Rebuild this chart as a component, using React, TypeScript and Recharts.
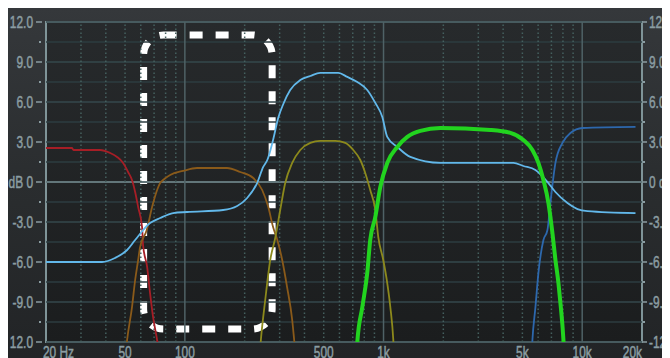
import React from 'react';
import { LineChart, Line, XAxis, YAxis, ReferenceLine, ReferenceArea, CartesianGrid } from 'recharts';

if (typeof document !== 'undefined') {
  document.documentElement.style.overflow = 'hidden';
  document.body.style.overflow = 'hidden';
}

// ---- axis data ----
const freqTicks = [20, 50, 100, 500, 1000, 5000, 10000, 20000];
const freqTickLabels = ['20 Hz', '50', '100', '500', '1k', '5k', '10k', '20k'];
const freqMinorGrid = [30, 40, 50, 60, 70, 80, 90, 200, 300, 400, 500, 600, 700, 800, 900, 2000, 3000, 4000, 5000, 6000, 7000, 8000, 9000];
const freqMajorGrid = [100, 1000, 10000];
const dbTicks = [12, 10.5, 9, 7.5, 6, 4.5, 3, 1.5, 0, -1.5, -3, -4.5, -6, -7.5, -9, -10.5, -12];
const dbMajor = [12, 9, 6, 3, 0, -3, -6, -9, -12];
const dbLeftLabels = ['12.0', '9.0', '6.0', '3.0', 'dB 0', '-3.0', '-6.0', '-9.0', '12.0'];
const dbRightLabels = ['12.0', '9.0', '6.0', '3.0', '0 dB', '-3.0', '-6.0', '-9.0', '-12.0'];
const dbMinorGrid = [10.5, 7.5, 4.5, 1.5, -1.5, -4.5, -7.5, -10.5];

// ---- series ----
const redFreq = [20, 27, 27.5, 37.4, 42, 45.6, 48.9, 51.8, 54.2, 56.2, 58.2, 60.9, 61.6, 64.6, 66.8, 69.2, 72.5, 75];
const redDb = [2.55, 2.55, 2.4, 2.4, 2.18, 1.88, 1.43, 0.75, 0.15, -0.75, -1.88, -3.38, -4.73, -6.38, -8.33, -10.13, -11.85, -13.35];

const brownFreq = [50, 51.2, 54.2, 56.2, 58.2, 59.5, 64.3, 68.4, 72.5, 75.1, 77.7, 84.3, 98, 115, 163, 190, 221, 245, 263, 278, 292, 309, 327, 347, 355, 363];
const brownDb = [-13.35, -11.85, -9.38, -7.35, -5.85, -4.88, -3.6, -1.88, -0.6, -0.08, 0.15, 0.53, 0.83, 1.05, 1.05, 0.75, 0.3, -0.6, -1.88, -3.38, -4.35, -5.85, -7.88, -10.35, -11.85, -13.35];

const skyFreq = [20, 38.3, 44.5, 51.2, 56.2, 66.8, 75.1, 87.3, 102.6, 155.8, 183.4, 205.9, 231, 248, 260, 278, 295, 313, 339, 381, 428, 480, 592, 657, 738, 828, 909, 986, 1044, 1173, 1364, 1932, 4506, 5058, 5816, 6684, 7334, 8430, 9466, 10628, 18550];
const skyDb = [-6, -6, -5.7, -5.1, -4.35, -3.08, -2.7, -2.33, -2.25, -2.1, -1.8, -1.2, -0.08, 1.13, 1.65, 3.15, 4.8, 5.85, 6.9, 7.65, 7.95, 8.18, 8.18, 7.88, 7.5, 6.9, 5.93, 4.88, 3.38, 2.63, 1.88, 1.43, 1.43, 1.2, 0.9, 0, -0.75, -1.58, -2.03, -2.18, -2.33];

const oliveFreq = [236.6, 242, 253.8, 269, 285, 302, 320, 347, 381, 428, 480, 571, 642, 704, 764, 809, 857, 909, 941, 997, 1044, 1082, 1120, 1133];
const oliveDb = [-13.35, -11.63, -8.85, -5.85, -4.2, -2.1, -0.08, 1.43, 2.4, 2.93, 3.08, 3.08, 2.93, 2.4, 1.65, 0.68, -0.6, -2.1, -4.13, -5.85, -7.58, -9.38, -11.85, -13.35];

const greenFreq = [729, 738, 782, 828, 857, 909, 963, 1044, 1173, 1318, 1532, 1932, 3450, 4352, 5058, 5616, 6020, 6380, 6762, 7082, 7334, 7592, 7770, 8046, 8140];
const greenDb = [-13.35, -12, -9.38, -6.83, -4.35, -2.63, -0.38, 1.43, 2.63, 3.38, 3.83, 4.05, 3.9, 3.68, 3.15, 2.4, 1.43, 0.15, -1.58, -3.83, -5.85, -7.58, -9.08, -11.85, -13.35];

const navyFreq = [5550, 5616, 5816, 6020, 6380, 6684, 6918, 7334, 7954, 8728, 10030, 18550];
const navyDb = [-13.35, -11.85, -9.38, -6.83, -4.35, -3.6, -1.58, 1.43, 2.93, 3.68, 4.05, 4.13];

// annotation box (freq range, dB range)
const boxFreq = [62, 275];
const boxDb = [-11.03, 11.03];

const zip = (fs: number[], ds: number[]) => fs.map((f, i) => ({ f, db: ds[i] }));
const redData = zip(redFreq, redDb);
const brownData = zip(brownFreq, brownDb);
const skyData = zip(skyFreq, skyDb);
const oliveData = zip(oliveFreq, oliveDb);
const greenData = zip(greenFreq, greenDb);
const navyData = zip(navyFreq, navyDb);

const FONT = "'Liberation Sans', Arial, sans-serif";
const TXT = '#8b9da2';
const SX = 0.7;

const Label = ({ x, y, anchor, children }: any) => (
  <text
    transform={`translate(${x},${y}) scale(${SX},1)`}
    x={0}
    y={0}
    textAnchor={anchor}
    fontFamily={FONT}
    fontSize={17}
    fill={TXT}
    stroke={TXT}
    strokeWidth={0.5}
  >
    {children}
  </text>
);

const TopTick = (props: any) => {
  const { x, y, payload } = props;
  const i = freqTicks.indexOf(payload.value);
  const anchor = i === 0 ? 'start' : i === freqTicks.length - 1 ? 'end' : 'middle';
  const dx = i === 0 ? -3 : 0;
  return <Label x={x + dx} y={y - 2} anchor={anchor}>{freqTickLabels[i]}</Label>;
};

const BottomTick = (props: any) => {
  const { x, y, payload } = props;
  const i = freqTicks.indexOf(payload.value);
  const anchor = i === 0 ? 'start' : i === freqTicks.length - 1 ? 'end' : 'middle';
  const dx = i === 0 ? -3 : 0;
  return <Label x={x + dx} y={y + 16} anchor={anchor}>{freqTickLabels[i]}</Label>;
};

const LeftTick = (props: any) => {
  const { x, y, payload } = props;
  const i = dbMajor.indexOf(payload.value);
  if (i < 0) {
    return <rect x={x - 7} y={y - 1} width={2} height={2} fill={TXT} />;
  }
  return (
    <g>
      <Label x={x - 13} y={y + 6} anchor="end">{dbLeftLabels[i]}</Label>
      <line x1={x - 10} x2={x - 4} y1={y} y2={y} stroke={TXT} strokeWidth={1.5} />
    </g>
  );
};

const RightTick = (props: any) => {
  const { x, y, payload } = props;
  const i = dbMajor.indexOf(payload.value);
  if (i < 0) {
    return <rect x={x + 1} y={y - 1} width={2} height={2} fill={TXT} />;
  }
  return (
    <g>
      <line x1={x + 1} x2={x + 5} y1={y} y2={y} stroke={TXT} strokeWidth={1.5} />
      <Label x={x + 7} y={y + 6} anchor="start">{dbRightLabels[i]}</Label>
    </g>
  );
};

const DashedBox = (props: any) => {
  const { x, y, width, height } = props;
  return (
    <rect x={x} y={y} width={width} height={height} rx={20} ry={20} fill="none" stroke="#ffffff" strokeWidth={7} strokeDasharray="13 13" />
  );
};

export default function App() {
  return (
    <div style={{ width: 662, height: 350, background: 'linear-gradient(180deg, #35383b 0%, #2a2d2f 50%, #222426 100%)' }}>
      <LineChart width={662} height={350} margin={{ top: 0, right: 0, bottom: 0, left: 0 }}>
        <defs>
          <linearGradient id="plotBg" x1="0" y1="0" x2="0" y2="1">
            <stop offset="0%" stopColor="#272a2c" />
            <stop offset="100%" stopColor="#1b1d1e" />
          </linearGradient>
        </defs>
        <XAxis xAxisId="t" orientation="top" type="number" scale="log" domain={[20, 20000]} allowDataOverflow ticks={freqTicks} tick={<TopTick />} tickLine={false} axisLine={false} height={14} tickSize={0} tickMargin={0} interval={0} />
        <XAxis xAxisId="b" orientation="bottom" dataKey="f" type="number" scale="log" domain={[20, 20000]} allowDataOverflow ticks={freqTicks} tick={<BottomTick />} tickLine={false} axisLine={false} height={16} tickSize={0} tickMargin={0} interval={0} />
        <YAxis yAxisId="l" orientation="left" type="number" domain={[-12, 12]} allowDataOverflow ticks={dbTicks} tick={<LeftTick />} tickLine={false} axisLine={false} width={38} tickSize={0} tickMargin={0} interval={0} />
        <YAxis yAxisId="r" orientation="right" type="number" domain={[-12, 12]} allowDataOverflow ticks={dbTicks} tick={<RightTick />} tickLine={false} axisLine={false} width={28} tickSize={0} tickMargin={0} interval={0} />
        <CartesianGrid xAxisId="b" yAxisId="l" horizontal={false} vertical={false} fill="url(#plotBg)" fillOpacity={1} />
        {dbMinorGrid.map((v) => (
          <ReferenceLine key={'hm' + v} xAxisId="b" yAxisId="l" y={v} stroke="#2c3d40" strokeWidth={1.5} />
        ))}
        {dbMajor.map((v) => (
          <ReferenceLine key={'hM' + v} xAxisId="b" yAxisId="l" y={v} stroke={v === 0 ? '#62767a' : '#35494c'} strokeWidth={v === 0 ? 2 : 1.5} />
        ))}
        {freqMinorGrid.map((v) => (
          <ReferenceLine key={'vm' + v} xAxisId="b" yAxisId="l" x={v} stroke="#45605f" strokeWidth={1.5} strokeDasharray="1.5 2.5" />
        ))}
        {freqMajorGrid.map((v) => (
          <ReferenceLine key={'vM' + v} xAxisId="b" yAxisId="l" x={v} stroke="#4f6266" strokeWidth={1.5} />
        ))}
        <ReferenceArea xAxisId="b" yAxisId="l" x1={20} x2={20000} y1={-12} y2={12} fill="none" stroke="#7f9498" strokeWidth={2} ifOverflow="visible" />
        <Line xAxisId="b" yAxisId="l" data={redData} dataKey="db" type="monotone" stroke="#a61e26" strokeWidth={1.8} dot={false} isAnimationActive={false} />
        <Line xAxisId="b" yAxisId="l" data={brownData} dataKey="db" type="monotone" stroke="#8a5a1a" strokeWidth={1.8} dot={false} isAnimationActive={false} />
        <Line xAxisId="b" yAxisId="l" data={oliveData} dataKey="db" type="monotone" stroke="#8c891c" strokeWidth={1.8} dot={false} isAnimationActive={false} />
        <Line xAxisId="b" yAxisId="l" data={navyData} dataKey="db" type="monotone" stroke="#2d68ad" strokeWidth={1.8} dot={false} isAnimationActive={false} />
        <Line xAxisId="b" yAxisId="l" data={skyData} dataKey="db" type="monotone" stroke="#62b8ea" strokeWidth={1.8} dot={false} isAnimationActive={false} />
        <Line xAxisId="b" yAxisId="l" data={greenData} dataKey="db" type="monotone" stroke="#22d41f" strokeWidth={4} dot={false} isAnimationActive={false} />
        <ReferenceArea xAxisId="b" yAxisId="l" x1={boxFreq[0]} x2={boxFreq[1]} y1={boxDb[0]} y2={boxDb[1]} shape={<DashedBox />} ifOverflow="visible" />
      </LineChart>
    </div>
  );
}
